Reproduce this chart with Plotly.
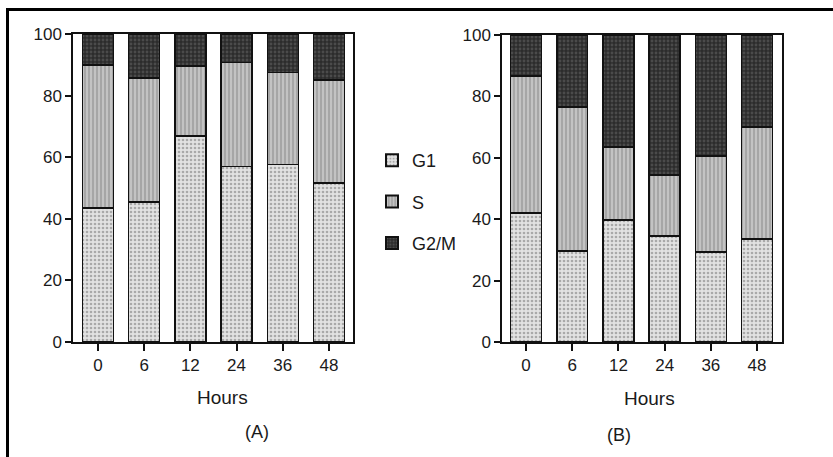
import plotly.graph_objects as go

hours = ["0", "6", "12", "24", "36", "48"]
phases = ["G1", "S", "G2/M"]

a_g1 = [43.5, 45.4, 66.9, 57.0, 57.7, 51.7]
a_s = [46.5, 40.3, 22.7, 33.7, 29.8, 33.3]
a_g2m = [10.0, 14.3, 10.4, 9.3, 12.5, 15.0]

# Panel B
b_g1 = [42.0, 29.6, 39.7, 34.5, 29.3, 33.6]
b_s = [44.6, 46.9, 23.8, 19.9, 31.3, 36.4]
b_g2m = [13.4, 23.5, 36.5, 45.6, 39.4, 30.0]

y_ticks = [0, 20, 40, 60, 80, 100]
x_title = "Hours"

W, H = 833, 457

styles = {
    "G1": dict(color="#e0e0e0", pattern=dict(shape=".", fgcolor="#707070", bgcolor="#e2e2e2", size=4, solidity=0.35)),
    "S": dict(color="#bdbdbd", pattern=dict(shape="|", fgcolor="#eeeeee", bgcolor="#a6a6a6", size=4, solidity=0.4)),
    "G2/M": dict(color="#333333", pattern=dict(shape=".", fgcolor="#6a6a6a", bgcolor="#2c2c2c", size=4, solidity=0.4)),
}

fig = go.Figure()
panels = [("x", "y", [a_g1, a_s, a_g2m], True), ("x2", "y2", [b_g1, b_s, b_g2m], False)]
for xa, ya, series, show in panels:
    for name, vals in zip(phases, series):
        st = styles[name]
        fig.add_trace(go.Bar(
            x=hours, y=vals, name=name, xaxis=xa, yaxis=ya,
            legendgroup=name, showlegend=show,
            marker=dict(color=st["color"], pattern=st["pattern"],
                        line=dict(color="#111111", width=1.5)),
        ))

def px_x(p):
    return p / W

def px_y(p):
    return 1 - p / H

font = "Liberation Sans, Arial, sans-serif"
txt = "#1a1a1a"
axis_common = dict(showline=True, linecolor="#111111", linewidth=1.5, mirror=True,
                   ticks="outside", tickcolor="#111111", tickwidth=1.5,
                   showgrid=False, zeroline=False, automargin=False,
                   tickfont=dict(family=font, size=17, color=txt))

def label(text, xp, yp, size):
    return dict(text=text, x=px_x(xp), y=px_y(yp), xref="paper", yref="paper",
                xanchor="center", yanchor="middle", showarrow=False,
                font=dict(size=size, family=font, color=txt))

fig.update_layout(
    width=W, height=H, margin=dict(l=0, r=0, t=0, b=0, autoexpand=False),
    paper_bgcolor="white", plot_bgcolor="white",
    barmode="stack", bargap=0.33,
    font=dict(family=font, color=txt),
    xaxis=dict(domain=[px_x(73), px_x(353)], range=[-0.54, 5.52], ticklen=7, **axis_common),
    yaxis=dict(domain=[px_y(342), px_y(34)], range=[0, 100], tickvals=y_ticks, ticklen=6,
               anchor="x", **axis_common),
    xaxis2=dict(domain=[px_x(502), px_x(782)], range=[-0.52, 5.54], ticklen=7, anchor="y2",
                **axis_common),
    yaxis2=dict(domain=[px_y(342), px_y(35)], range=[0, 100], tickvals=y_ticks, ticklen=6,
                anchor="x2", **axis_common),
    legend=dict(x=px_x(372), y=px_y(142), xanchor="left", yanchor="top",
                traceorder="grouped", tracegroupgap=15,
                font=dict(family=font, size=18, color=txt),
                bgcolor="rgba(0,0,0,0)", itemsizing="constant"),
    annotations=[
        label(x_title, 222, 397, 19),
        label(x_title, 649, 398, 19),
        label("(A)", 257, 432, 18),
        label("(B)", 619, 435, 18),
    ],
    shapes=[
        dict(type="line", xref="paper", yref="paper", x0=px_x(6), x1=1, y0=px_y(9.5), y1=px_y(9.5),
             line=dict(color="black", width=3)),
        dict(type="line", xref="paper", yref="paper", x0=px_x(7.5), x1=px_x(7.5), y0=px_y(8), y1=0,
             line=dict(color="black", width=3)),
    ],
)

fig.write_html("out.html", config={"displayModeBar": False},
               post_script="document.body.style.margin='0';document.body.style.overflow='hidden';")
